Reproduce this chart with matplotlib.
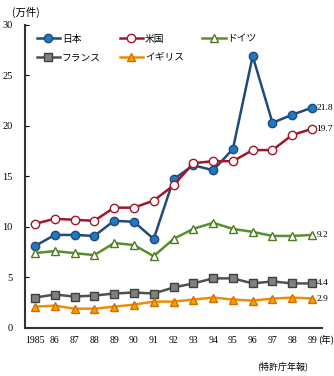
import numpy as np
import matplotlib.pyplot as plt

plt.rcParams['font.family'] = ['Noto Sans CJK JP', 'DejaVu Sans']

years = ['1985', '86', '87', '88', '89', '90', '91', '92', '93', '94', '95', '96', '97', '98', '99']
japan = [8.1, 9.2, 9.2, 9.1, 10.6, 10.5, 8.8, 14.7, 16.1, 15.6, 17.7, 26.9, 20.3, 21.1, 21.8]
usa = [10.3, 10.8, 10.7, 10.6, 11.9, 11.9, 12.6, 14.1, 16.3, 16.5, 16.5, 17.6, 17.6, 19.1, 19.7]
germany = [7.4, 7.6, 7.4, 7.2, 8.4, 8.2, 7.1, 8.8, 9.8, 10.4, 9.8, 9.5, 9.1, 9.1, 9.2]
france = [3.0, 3.3, 3.1, 3.2, 3.4, 3.5, 3.4, 4.0, 4.4, 4.9, 4.9, 4.4, 4.6, 4.4, 4.4]
uk = [2.1, 2.2, 1.9, 1.9, 2.1, 2.3, 2.6, 2.6, 2.8, 3.0, 2.8, 2.7, 2.9, 3.0, 2.9]
end_labels = ['21.8', '19.7', '9.2', '4.4', '2.9']

fig = plt.figure(figsize=(3.34, 3.76), dpi=100)
ax = fig.add_axes([0.075, 0.128, 0.889, 0.806])
xs = np.arange(len(years))

series = [
    (japan, '日本', dict(color='#1f4a7a', marker='o', mfc='#1f78c1', mec='#1f4a7a', ms=6)),
    (usa, '米国', dict(color='#a3162a', marker='o', mfc='white', mec='#a3162a', ms=6)),
    (germany, 'ドイツ', dict(color='#5b8f2b', marker='^', mfc='white', mec='#4a7a22', ms=6)),
    (france, 'フランス', dict(color='#505050', marker='s', mfc='#808080', mec='#404040', ms=5.5)),
    (uk, 'イギリス', dict(color='#f08c00', marker='^', mfc='#f5a000', mec='#d07000', ms=6)),
]
handles = []
for (vals, name, st), lab in zip(series, end_labels):
    h, = ax.plot(xs, vals, lw=1.8, label=name, mew=1, **st)
    handles.append(h)
    ax.text(xs[-1] + 0.22, vals[-1], lab, fontsize=6.8, va='center', ha='left',
            family='Liberation Serif', clip_on=False)

ax.set_xlim(-0.5, 14.5)
ax.set_ylim(0, 30)
ax.set_yticks([0, 5, 10, 15, 20, 25, 30])
ax.set_xticks(xs)
ax.set_xticklabels(years, family='Liberation Serif', fontsize=7)
for t in ax.get_yticklabels():
    t.set_family('Liberation Serif')
    t.set_fontsize(7.5)
ax.tick_params(axis='y', direction='in', length=3, pad=9)
ax.tick_params(axis='x', length=0, pad=6)
for s in ['top', 'right']:
    ax.spines[s].set_visible(False)
for s in ['left', 'bottom']:
    ax.spines[s].set_linewidth(1.5)
    ax.spines[s].set_color('#333333')

# column-wise fill: row1 = 日本 米国 ドイツ, row2 = フランス イギリス
order = [0, 3, 1, 4, 2]
ax.legend([handles[i] for i in order], [series[i][1] for i in order],
          loc='upper left', ncol=3, frameon=False, fontsize=7, handlelength=2.4,
          handletextpad=0.2, columnspacing=1.9, labelspacing=0.9,
          bbox_to_anchor=(0.01, 1.0))

fig.text(0.035, 0.968, '(万件)', fontsize=7.5, ha='left', va='center')
fig.text(1.0, 0.098, '(年)', fontsize=6.8, ha='right', va='center')
fig.text(0.845, 0.025, '(特許庁年報)', fontsize=6.5, ha='center', va='center')

fig.savefig('out.png', dpi=100)
